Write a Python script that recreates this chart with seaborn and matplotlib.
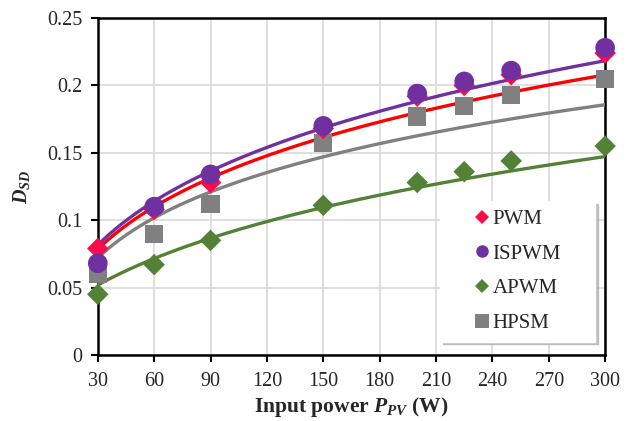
import numpy as np
import pandas as pd
import matplotlib
matplotlib.use("Agg")
import matplotlib.pyplot as plt
from matplotlib.lines import Line2D
import seaborn as sns

# ---- data ----
power = [30, 60, 90, 150, 200, 225, 250, 300]
pwm = [0.079, 0.108, 0.128, 0.168, 0.192, 0.200, 0.208, 0.224]
ispwm = [0.068, 0.110, 0.134, 0.170, 0.194, 0.203, 0.211, 0.228]
apwm = [0.045, 0.067, 0.085, 0.111, 0.128, 0.136, 0.144, 0.155]
hpsm = [0.060, 0.090, 0.112, 0.157, 0.177, 0.185, 0.193, 0.205]

# trend curves read at these powers
trend_x = [30, 45, 60, 90, 120, 150, 180, 210, 240, 270, 300]
trend_pwm = [0.0803, 0.0946, 0.108, 0.1298, 0.148, 0.1664, 0.1744, 0.1799, 0.193, 0.2004, 0.2066]
trend_ispwm = [0.0828, 0.0988, 0.1125, 0.1367, 0.153, 0.1715, 0.1818, 0.1893, 0.2034, 0.2103, 0.217]
trend_apwm = [0.053, 0.0617, 0.0703, 0.0857, 0.0996, 0.1107, 0.12, 0.126, 0.1348, 0.141, 0.146]
trend_hpsm = [0.0733, 0.0877, 0.0988, 0.1248, 0.1335, 0.149, 0.1575, 0.1633, 0.1731, 0.1798, 0.1855]

series = ["PWM", "ISPWM", "APWM", "HPSM"]
points = {"PWM": pwm, "ISPWM": ispwm, "APWM": apwm, "HPSM": hpsm}
trends = {"PWM": trend_pwm, "ISPWM": trend_ispwm, "APWM": trend_apwm, "HPSM": trend_hpsm}
x_ticks = [30, 60, 90, 120, 150, 180, 210, 240, 270, 300]
y_ticks = [0, 0.05, 0.1, 0.15, 0.2, 0.25]
y_tick_labels = ["0", "0.05", "0.1", "0.15", "0.2", "0.25"]

# ---- styles ----
line_col = {"PWM": "#FF0000", "ISPWM": "#7030A0", "APWM": "#538135", "HPSM": "#808080"}
mark_col = {"PWM": "#FF0A4A", "ISPWM": "#7030A0", "APWM": "#538135", "HPSM": "#808080"}
markers = {"PWM": "D", "ISPWM": "o", "APWM": "D", "HPSM": "s"}
msize = {"PWM": 120, "ISPWM": 200, "APWM": 120, "HPSM": 170}

sns.set_theme(style="white")
plt.rcParams["font.family"] = ["Liberation Serif", "DejaVu Serif"]
plt.rcParams["mathtext.fontset"] = "custom"
plt.rcParams["mathtext.it"] = "Liberation Serif:italic:bold"
plt.rcParams["mathtext.rm"] = "Liberation Serif:bold"

fig = plt.figure(figsize=(6.35, 4.21), dpi=100)
ax = fig.add_axes([0.154, 0.157, 0.799, 0.800])

# smooth trend curves (regression in log x of the read curve values)
dense = np.linspace(30, 300, 300)
rows = []
for s in series:
    c = np.polyfit(np.log(trend_x), trends[s], 2)
    yv = np.polyval(c, np.log(dense))
    rows.append(pd.DataFrame({"x": dense, "y": yv, "s": s}))
tdf = pd.concat(rows, ignore_index=True)
for s in ["HPSM", "APWM", "PWM", "ISPWM"]:
    sns.lineplot(data=tdf[tdf.s == s], x="x", y="y", color=line_col[s],
                 linewidth=2.4, ax=ax, zorder=3, legend=False)

for s in ["HPSM", "APWM", "PWM", "ISPWM"]:
    d = pd.DataFrame({"x": power, "y": points[s]})
    sns.scatterplot(data=d, x="x", y="y", marker=markers[s], s=msize[s],
                    color=mark_col[s], edgecolor="none", ax=ax, zorder=4,
                    legend=False, clip_on=False)

ax.set_xlim(30, 300)
ax.set_ylim(0, 0.25)
ax.set_xticks(x_ticks)
ax.set_xticklabels([str(v) for v in x_ticks])
ax.set_yticks(y_ticks)
ax.set_yticklabels(y_tick_labels)
ax.grid(True, color="#D9D9D9", linewidth=1.2)
ax.set_axisbelow(True)
for sp in ax.spines.values():
    sp.set_color("black")
    sp.set_linewidth(1.8)
ax.tick_params(axis="both", which="major", labelsize=14.5, direction="out",
               length=5, width=1.5, color="black", bottom=True, left=True)
ax.tick_params(axis="x", pad=7)
ax.tick_params(axis="y", pad=6)

ax.set_xlabel("Input power $P_{PV}$ (W)", fontsize=15.5, fontweight="bold", labelpad=3)
ax.set_ylabel("$D_{SD}$", fontsize=14.5, labelpad=11)

handles = [Line2D([], [], linestyle="none", marker=markers[s], color=mark_col[s],
                  markersize={"PWM": 7, "ISPWM": 9, "APWM": 7, "HPSM": 10}[s],
                  markeredgewidth=0)
           for s in series]
leg = ax.legend(handles, series, loc="lower left",
                bbox_to_anchor=(0.6746, 0.0395, 0.3057, 0.415), mode="expand",
                fontsize=15, frameon=True,
                shadow={"color": "0.7", "alpha": 0.8}, fancybox=False,
                labelspacing=0.72, handletextpad=-1.1, borderpad=0.42,
                handlelength=3.2, borderaxespad=0)
leg.get_frame().set_edgecolor("white")
leg.get_frame().set_facecolor("white")
leg.set_zorder(10)

fig.savefig("out.png", dpi=100)
